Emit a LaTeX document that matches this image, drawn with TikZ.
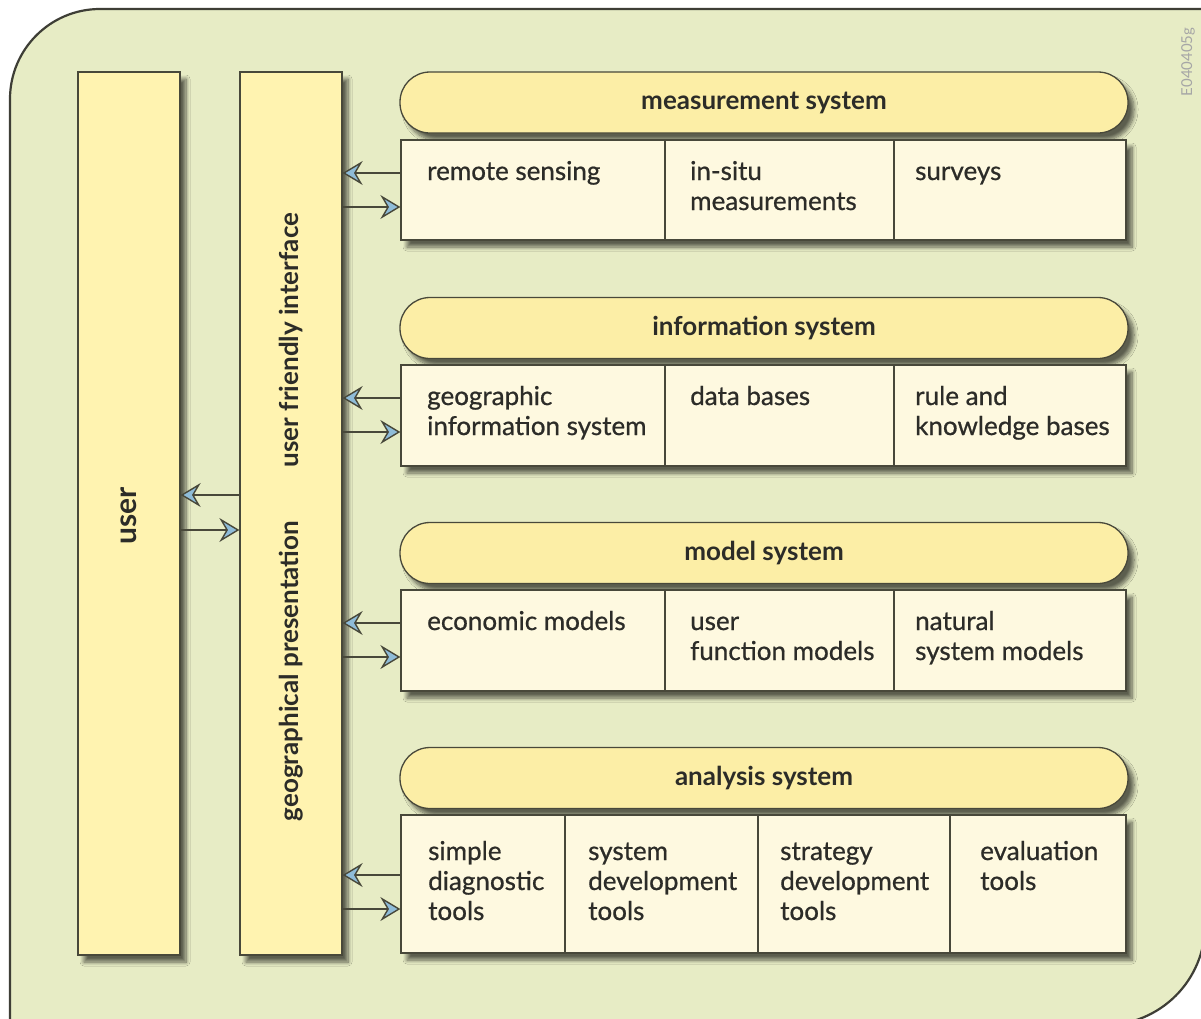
\documentclass[tikz,border=0pt]{standalone}
\usepackage{fontspec}
\setmainfont{Lato}
\newfontfamily\cellfamily{Lato}[FakeBold=0.7]
\usetikzlibrary{arrows.meta,shadows.blur}

\definecolor{bggreen}{HTML}{E7ECC5}
\definecolor{framecol}{HTML}{3E3E36}
\definecolor{edgecol}{HTML}{48483A}
\definecolor{boxyellow}{HTML}{FFF3B0}
\definecolor{pillyellow}{HTML}{FCEEA6}
\definecolor{cellcream}{HTML}{FEF9E0}
\definecolor{txtcol}{HTML}{2C2C28}
\definecolor{tipblue}{HTML}{8FBCD8}

\newcommand\cellfont{\cellfamily\fontsize{26}{30}\selectfont}
\newcommand\headfont{\bfseries\fontsize{26}{30}\selectfont}
\newcommand\lines[1]{\begin{tabular}[t]{@{}l@{}}#1\end{tabular}}

\tikzset{
  softshadow/.style={blur shadow={shadow xshift=6pt, shadow yshift=-7pt,
      shadow blur radius=4pt, shadow blur steps=8, shadow opacity=60}},
  column/.style={draw=edgecol, line width=1.3pt, fill=boxyellow, softshadow,
      minimum width=102pt, minimum height=883pt, inner sep=0pt},
  pill/.style={draw=edgecol, line width=1.3pt, fill=pillyellow, softshadow,
      rounded corners=30pt, minimum width=728pt, minimum height=61pt,
      inner sep=0pt, font=\headfont, text=txtcol},
  rowbox/.style={draw=edgecol, line width=1.3pt, fill=cellcream, softshadow,
      minimum width=725pt, inner sep=0pt},
  cell/.style={draw=edgecol, line width=1.3pt, inner sep=0pt},
  ctext/.style={anchor=base west, inner sep=0pt, font=\cellfont, text=txtcol},
  vlabel/.style={rotate=90, inner sep=0pt, font=\headfont, text=txtcol},
  flow/.style={draw=edgecol, line width=1.8pt,
      -{Stealth[length=20pt, width=24pt, inset=7pt, fill=tipblue, line width=1.4pt]}},
}

\begin{document}
\begin{tikzpicture}[x=1pt, y=-1pt]
\useasboundingbox (0,0) rectangle (1201,1018);
\fill[white] (0,0) rectangle (1201,1018);

% background panel with two rounded corners
\draw[fill=bggreen, draw=framecol, line width=2.2pt]
  (10,1040) -- (10,99) arc[start angle=180, end angle=270, radius=90]
  -- (1205,9) -- (1205,925) arc[start angle=0, end angle=90, radius=100]
  -- (10,1040) -- cycle;

% drawing code
\node[rotate=90, inner sep=0pt, font=\fontsize{15}{16}\selectfont, text=black!35] (code) at (1188,62) {E040405g};

% user and interface columns
\node[column] (user)  at (129,513.5) {};
\node[column] (iface) at (291,513.5) {};
\node[vlabel, font=\bfseries\fontsize{30}{32}\selectfont] (userlbl) at (129,516) {user};
\node[vlabel] (ifacelbl1) at (291,340) {user friendly interface};
\node[vlabel] (ifacelbl2) at (291,671) {geographical presentation};

% ---------- measurement system ----------
\node[pill] (mhead) at (764,102.5) {measurement system};
\node[rowbox, minimum height=100pt] (mrow) at (763.5,190) {};
\node[cell, minimum width=264pt, minimum height=100pt] (m1) at (533,190) {};
\node[cell, minimum width=229pt, minimum height=100pt] (m2) at (779.5,190) {};
\node[cell, minimum width=232pt, minimum height=100pt] (m3) at (1010,190) {};
\node[ctext] (m1t) at (427,180) {\lines{remote sensing}};
\node[ctext] (m2t) at (690,180) {\lines{in-situ\\measurements}};
\node[ctext] (m3t) at (915,180) {\lines{surveys}};

% ---------- information system ----------
\node[pill] (ihead) at (764,328) {information system};
\node[rowbox, minimum height=101pt] (irow) at (763.5,415.5) {};
\node[cell, minimum width=264pt, minimum height=101pt] (i1) at (533,415.5) {};
\node[cell, minimum width=229pt, minimum height=101pt] (i2) at (779.5,415.5) {};
\node[cell, minimum width=232pt, minimum height=101pt] (i3) at (1010,415.5) {};
\node[ctext] (i1t) at (427,405) {\lines{geographic\\information system}};
\node[ctext] (i2t) at (690,405) {\lines{data bases}};
\node[ctext] (i3t) at (915,405) {\lines{rule and\\knowledge bases}};

% ---------- model system ----------
\node[pill] (mohead) at (764,553) {model system};
\node[rowbox, minimum height=101pt] (morow) at (763.5,640.5) {};
\node[cell, minimum width=264pt, minimum height=101pt] (mo1) at (533,640.5) {};
\node[cell, minimum width=229pt, minimum height=101pt] (mo2) at (779.5,640.5) {};
\node[cell, minimum width=232pt, minimum height=101pt] (mo3) at (1010,640.5) {};
\node[ctext] (mo1t) at (427,630) {\lines{economic models}};
\node[ctext] (mo2t) at (690,630) {\lines{user\\function models}};
\node[ctext] (mo3t) at (915,630) {\lines{natural\\system models}};

% ---------- analysis system ----------
\node[pill] (ahead) at (764,778) {analysis system};
\node[rowbox, minimum height=138pt] (arow) at (763.5,884) {};
\node[cell, minimum width=164pt, minimum height=138pt] (a1) at (483,884) {};
\node[cell, minimum width=193pt, minimum height=138pt] (a2) at (661.5,884) {};
\node[cell, minimum width=192pt, minimum height=138pt] (a3) at (854,884) {};
\node[cell, minimum width=176pt, minimum height=138pt] (a4) at (1038,884) {};
\node[ctext] (a1t) at (428,860) {\lines{simple\\diagnostic\\tools}};
\node[ctext] (a2t) at (588,860) {\lines{system\\development\\tools}};
\node[ctext] (a3t) at (780,860) {\lines{strategy\\development\\tools}};
\node[ctext] (a4t) at (980,860) {\lines{evaluation\\tools}};

% ---------- connectors between rows and the interface ----------
\coordinate (mo) at (mrow.west |- 0,173);  \coordinate (mi) at (mrow.west |- 0,207);
\coordinate (io) at (irow.west |- 0,398);  \coordinate (ii) at (irow.west |- 0,432);
\coordinate (moo) at (morow.west |- 0,623); \coordinate (moi) at (morow.west |- 0,657);
\coordinate (ao) at (arow.west |- 0,875);  \coordinate (ai) at (arow.west |- 0,909);
\draw[flow] (mo) -- (mo -| iface.east);
\draw[flow] (mi -| iface.east) -- (mi);
\draw[flow] (io) -- (io -| iface.east);
\draw[flow] (ii -| iface.east) -- (ii);
\draw[flow] (moo) -- (moo -| iface.east);
\draw[flow] (moi -| iface.east) -- (moi);
\draw[flow] (ao) -- (ao -| iface.east);
\draw[flow] (ai -| iface.east) -- (ai);

% ---------- connectors between interface and user ----------
\coordinate (uo) at (iface.west |- 0,495);
\coordinate (ui) at (user.east |- 0,530);
\draw[flow] (uo) -- (uo -| user.east);
\draw[flow] (ui) -- (ui -| iface.west);
\end{tikzpicture}
\end{document}
